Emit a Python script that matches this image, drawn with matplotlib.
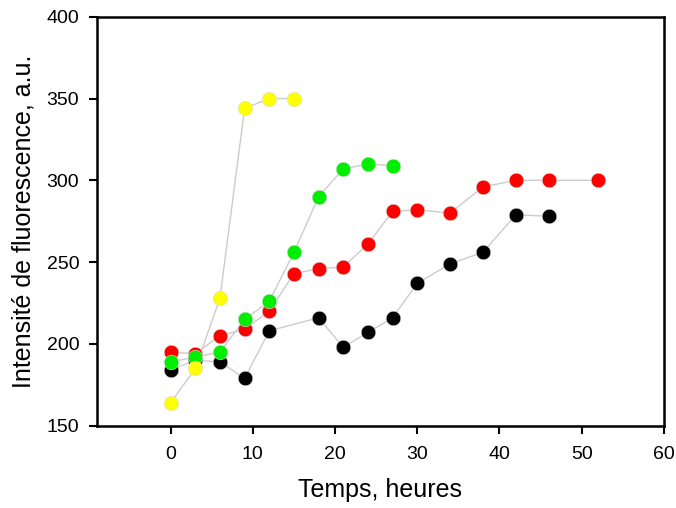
import matplotlib
matplotlib.use("Agg")
import matplotlib.pyplot as plt

plt.rcParams['font.family'] = ['Liberation Sans', 'DejaVu Sans']

# data
t_black = [0, 3, 6, 9, 12, 18, 21, 24, 27, 30, 34, 38, 42, 46]
y_black = [184, 190, 189, 179, 208, 216, 198, 207, 216, 237, 249, 256, 279, 278]

t_red = [0, 3, 6, 9, 12, 15, 18, 21, 24, 27, 30, 34, 38, 42, 46, 52]
y_red = [195, 194, 205, 209, 220, 243, 246, 247, 261, 281, 282, 280, 296, 300, 300, 300]

t_green = [0, 3, 6, 9, 12, 15, 18, 21, 24, 27]
y_green = [189, 192, 195, 215, 226, 256, 290, 307, 310, 309]

t_yellow = [0, 3, 6, 9, 12, 15]
y_yellow = [164, 185, 228, 344, 350, 350]

series = [
    (t_black, y_black, "#000000"),
    (t_red, y_red, "#ff0000"),
    (t_green, y_green, "#00ee00"),
    (t_yellow, y_yellow, "#ffff00"),
]

fig = plt.figure(figsize=(6.76, 5.08), dpi=100)
ax = fig.add_axes([0.143, 0.162, 0.839, 0.805])

for i, (t, y, c) in enumerate(series):
    ax.plot(t, y, color="#cccccc", lw=1, zorder=1)
    ax.plot(t, y, "o", color=c, ms=10.5, mec="#dddddd", mew=0.4, zorder=2 + i)

ax.set_xlim(-9, 60)
ax.set_ylim(150, 400)
ax.set_xticks([0, 10, 20, 30, 40, 50, 60])
ax.set_yticks([150, 200, 250, 300, 350, 400])
ax.tick_params(direction="out", length=5.5, width=1.5, labelsize=14, pad=7)
ax.tick_params(axis="x", pad=9)
for s in ax.spines.values():
    s.set_linewidth(1.8)

ax.set_xlabel("Temps, heures", fontsize=18, labelpad=11)
ax.set_ylabel("Intensité de fluorescence, a.u.", fontsize=18, labelpad=8)

fig.savefig("out.png", dpi=100)
